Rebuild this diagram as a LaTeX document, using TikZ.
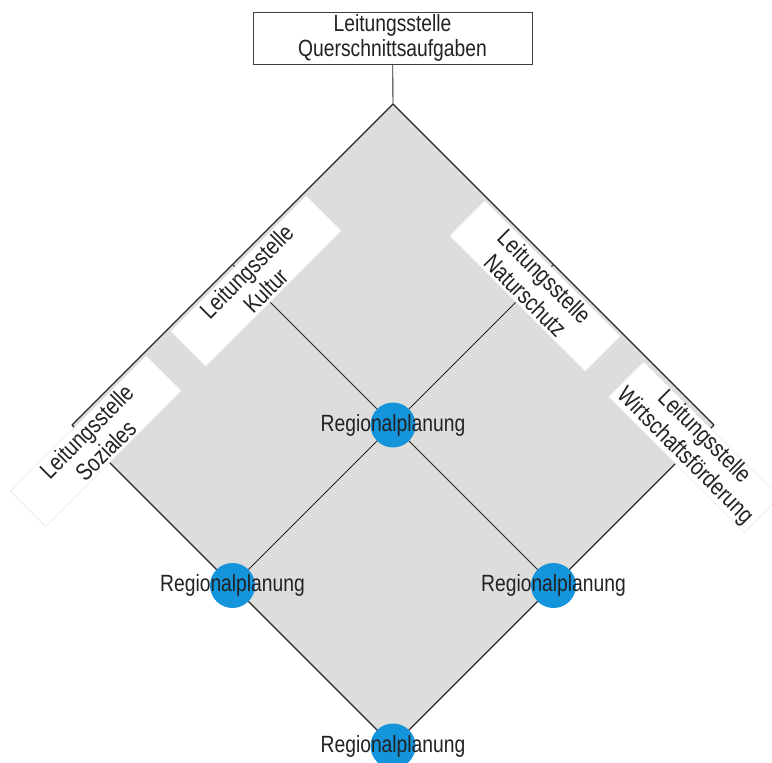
\documentclass[tikz,border=0pt]{standalone}
\usepackage{fontspec}
\newfontfamily\lsf[FakeStretch=0.82]{Liberation Sans}
\usetikzlibrary{arrows.meta}
\usetikzlibrary{positioning}
\definecolor{rautegrau}{RGB}{221,221,219}
\definecolor{rpblau}{RGB}{20,148,218}
\definecolor{schrift}{RGB}{35,33,34}

\begin{document}
\begin{tikzpicture}[x=1pt, y=1pt,
    stelle/.style={draw=black!75, line width=0.9pt, fill=white, minimum width=279pt, minimum height=52pt,
        inner sep=0pt, align=center, text=schrift, font=\lsf\fontsize{23.5}{24.5}\selectfont},
    bereich/.style={draw=black!12, fill=white, minimum width=192pt, minimum height=50pt,
        inner sep=0pt, align=center, text=schrift, font=\lsf\fontsize{24}{27}\selectfont},
    punkt/.style={circle, fill=rpblau, minimum size=45pt, inner sep=0pt},
    rp/.style={inner sep=0pt, text=schrift, font=\lsf\fontsize{23.5}{24}\selectfont}]
    \useasboundingbox (0,0) rectangle (772,-763);

    % raute
    \coordinate (top) at (393,-104);
    \coordinate (left) at (72,-425);
    \coordinate (right) at (714,-425);
    \coordinate (bottom) at (393,-746);
    \coordinate (mid) at (393,-425);
    \coordinate (ul) at (232.5,-264.5);
    \coordinate (ur) at (553.5,-264.5);
    \coordinate (ll) at (232.5,-585.5);
    \coordinate (lr) at (553.5,-585.5);

    \fill[rautegrau] (top) -- (right) -- (bottom) -- (left) -- cycle;

    \draw[black!85, line width=0.9pt] (ul) -- (lr);
    \draw[black!85, line width=0.9pt] (ur) -- (ll);
    \draw[black!85, line width=1.1pt] (top) -- (left);
    \draw[black!85, line width=1.1pt] (top) -- (right);
    \draw[black!85, line width=1.1pt] (bottom) -- (left);
    \draw[black!85, line width=1.1pt] (bottom) -- (right);

    \node[stelle] (quer) at (392.5,-38) {Leitungsstelle\\Querschnittsaufgaben};
    \draw[black!85, line width=0.9pt] (quer) -- (top);

    \node[bereich, rotate=45] (kultur) at (256,-281) {Leitungsstelle\\Kultur};
    \node[bereich, rotate=45] (soziales) at (96,-441) {Leitungsstelle\\Soziales};
    \node[bereich, rotate=-45] (natur) at (535,-286) {Leitungsstelle\\Naturschutz};
    \node[bereich, rotate=-45] (wirtschaft) at (694,-447) {Leitungsstelle\\Wirtschaftsförderung};

    \node[punkt] (pmid) at (mid) {};
    \node[punkt] (pll) at (ll) {};
    \node[punkt] (plr) at (lr) {};
    \node[punkt] (pbottom) at (bottom) {};

    \node[rp] (rmid) at (pmid) {Regionalplanung};
    \node[rp] (rll) at (pll) {Regionalplanung};
    \node[rp] (rlr) at (plr) {Regionalplanung};
    \node[rp] (rbottom) at (pbottom) {Regionalplanung};
\end{tikzpicture}
\end{document}
